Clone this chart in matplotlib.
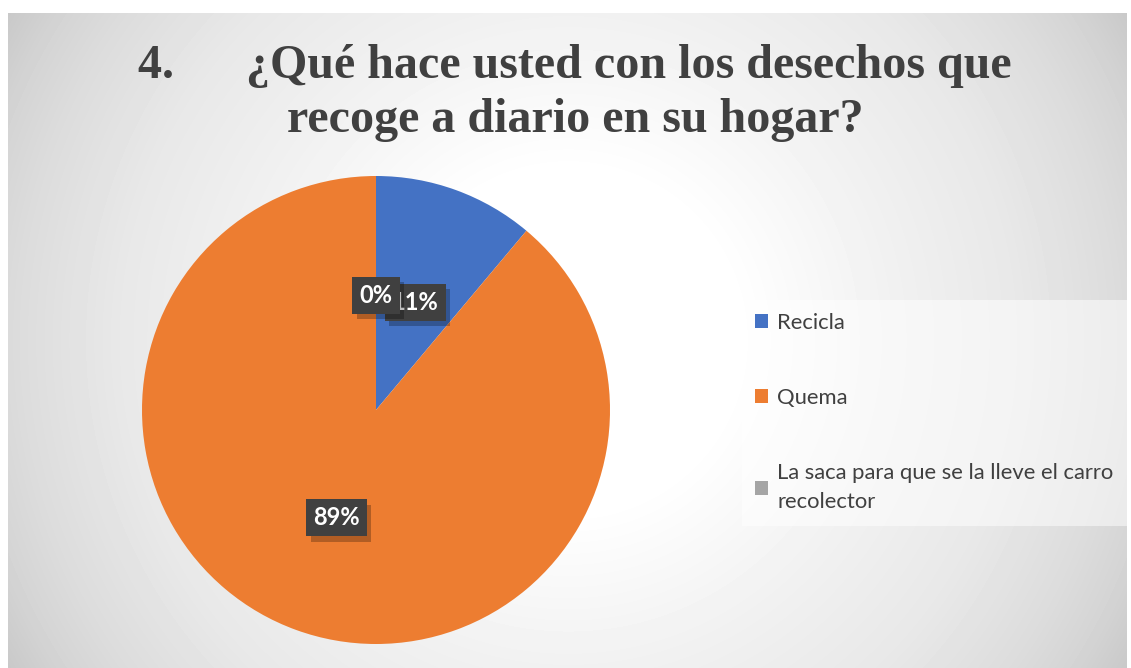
import numpy as np
import matplotlib.pyplot as plt
from matplotlib.patches import Patch
import matplotlib.patheffects as pe

categorias = ["Recicla", "Quema", "La saca para que se la lleve el carro\nrecolector"]
valores = [1, 8, 0]
colores = ["#4472C4", "#ED7D31", "#A5A5A5"]
titulo = "4.      ¿Qué hace usted con los desechos que\nrecoge a diario en su hogar?"

W, H = 1131, 668
fig = plt.figure(figsize=(W / 100, H / 100), dpi=100)
fig.patch.set_facecolor("white")

# fondo con degradado radial
bg = fig.add_axes([8 / W, 0, (1127 - 8) / W, (H - 13) / H], zorder=0)
yy, xx = np.mgrid[13:668, 8:1127]
d = np.hypot(xx - 568, yy - 340)
tono = np.interp(d, [0, 180, 325, 450, 550, 600, 660], [255, 254, 241, 232, 220, 212, 198]) / 255
bg.imshow(tono, cmap="gray", vmin=0, vmax=1, aspect="auto", interpolation="bilinear")
bg.axis("off")

# gráfico de pastel
cx, cy, r = 376, H - 410, 234
ax = fig.add_axes([(cx - r) / W, (cy - r) / H, 2 * r / W, 2 * r / H], zorder=1)
wedges, textos, autotextos = ax.pie(
    valores, colors=colores, startangle=90, counterclock=False,
    autopct="%1.0f%%", pctdistance=0.49, radius=1,
    textprops=dict(color="white", fontsize=17, fontweight="bold", family="Lato"),
)
for t in autotextos:
    t.set_bbox(dict(boxstyle="square,pad=0.3", facecolor="#404040", edgecolor="none"))
    t.get_bbox_patch().set_path_effects(
        [pe.SimplePatchShadow(offset=(3, -4), shadow_rgbFace="black", alpha=0.25), pe.Normal()])
ax.set_xlim(-1, 1)
ax.set_ylim(-1, 1)
ax.set_aspect("equal")
ax.axis("off")

fig.text(575 / W, 1 - 44 / H, titulo, ha="center", va="top", fontsize=34.6,
         fontweight="bold", family="Liberation Serif", color="#404040",
         linespacing=1.3, zorder=3)

handles = [Patch(facecolor=c, edgecolor="none") for c in colores]
leg = fig.legend(handles, categorias, loc="upper left",
                 bbox_to_anchor=(742 / W, 1 - 300 / H), borderaxespad=0,
                 frameon=True, prop=dict(family="Lato", size=15.8),
                 labelcolor="#404040", handlelength=0.6, handleheight=0.6,
                 handletextpad=0.4, labelspacing=2.5, borderpad=0.6,
                 fancybox=False)
for t in leg.get_texts():
    t.set_linespacing(1.6)
leg.get_frame().set_facecolor("white")
leg.get_frame().set_alpha(0.5)
leg.get_frame().set_edgecolor("none")
leg.set_zorder(3)

fig.savefig("out.png", dpi=100)
